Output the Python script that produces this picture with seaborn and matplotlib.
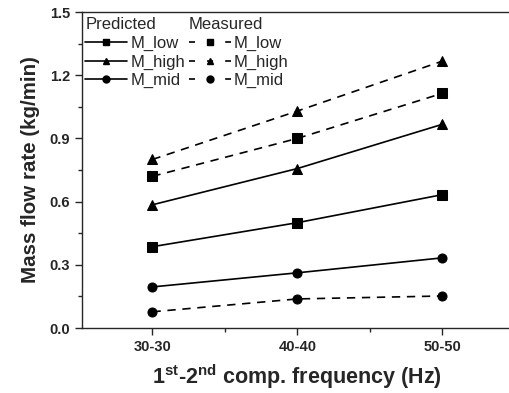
import pandas as pd
import seaborn as sns
import matplotlib.pyplot as plt
from matplotlib.lines import Line2D
from matplotlib.ticker import AutoMinorLocator, MultipleLocator

# ===== DATA =====
freqs = ["30-30", "40-40", "50-50"]
series_names = ["M_low", "M_high", "M_mid"]
predicted = {
    "M_low": [0.386, 0.50, 0.633],
    "M_high": [0.585, 0.757, 0.967],
    "M_mid": [0.195, 0.262, 0.333],
}
measured = {
    "M_low": [0.72, 0.90, 1.114],
    "M_high": [0.80, 1.03, 1.267],
    "M_mid": [0.077, 0.138, 0.152],
}
markers = {"M_low": "s", "M_high": "^", "M_mid": "o"}

# long-form table
rows = []
for name in series_names:
    for i, f in enumerate(freqs):
        rows.append({"pos": i, "freq": f, "series": name, "kind": "Predicted", "value": predicted[name][i]})
        rows.append({"pos": i, "freq": f, "series": name, "kind": "Measured", "value": measured[name][i]})
df = pd.DataFrame(rows)

sns.set_style("ticks")
plt.rcParams["font.family"] = ["Liberation Sans", "DejaVu Sans"]
plt.rcParams["mathtext.fontset"] = "custom"
plt.rcParams["mathtext.rm"] = "Liberation Sans:bold"
plt.rcParams["mathtext.bf"] = "Liberation Sans:bold"

fig = plt.figure(figsize=(5.1, 3.93), dpi=100)
ax = fig.add_axes([82 / 510, 65 / 393, 430 / 510, 316 / 393])

dash = (0, (5, 4))
for name in series_names:
    sub = df[(df["series"] == name) & (df["kind"] == "Predicted")]
    sns.lineplot(data=sub, x="pos", y="value", ax=ax, color="black", lw=1.2,
                 marker=markers[name], markersize=6.5, markeredgecolor="black", legend=False)
for name in series_names:
    sub = df[(df["series"] == name) & (df["kind"] == "Measured")]
    sns.lineplot(data=sub, x="pos", y="value", ax=ax, color="black", lw=1.2, linestyle=dash,
                 marker=markers[name], markersize=6.5, markeredgecolor="black", legend=False)

ax.set_xlim(-0.486, 2.48)
ax.set_ylim(0, 1.5)
ax.set_xticks(range(len(freqs)))
ax.set_xticklabels(freqs)
ax.yaxis.set_major_locator(MultipleLocator(0.3))
ax.yaxis.set_minor_locator(AutoMinorLocator(2))
ax.xaxis.set_minor_locator(AutoMinorLocator(2))
ax.yaxis.set_major_formatter(plt.FormatStrFormatter("%.1f"))
ax.tick_params(which="both", direction="out", width=1, labelsize=10.5)
ax.tick_params(which="major", length=5)
ax.tick_params(which="minor", length=3)
for lab in ax.get_xticklabels() + ax.get_yticklabels():
    lab.set_fontweight("bold")
ax.spines["right"].set_visible(False)
for s in ["left", "bottom", "top"]:
    ax.spines[s].set_linewidth(1.0)

ax.set_xlabel(r"1$^{\mathrm{st}}$-2$^{\mathrm{nd}}$ comp. frequency (Hz)", fontsize=15.5,
              fontweight="bold", labelpad=6)
ax.set_ylabel("Mass flow rate (kg/min)", fontsize=14.8, fontweight="bold", labelpad=7)

# legend handles (smaller markers than in the plot, as in the reference)
# dash pattern is scaled by linewidth, so 3.6/7.25 * 1.2 gives "- marker -"
h_pred = [Line2D([], [], color="black", lw=1.2, marker=markers[n], markersize=5) for n in series_names]
h_meas = [Line2D([], [], color="black", lw=1.2, linestyle=(0, (3.6, 7.25)), marker=markers[n], markersize=5)
          for n in series_names]
leg_kw = dict(frameon=False, fontsize=12, handlelength=2.52, handletextpad=0.2,
              labelspacing=0.22, borderaxespad=0.0, borderpad=0.2, alignment="left",
              title_fontsize=12)
leg1 = ax.legend(h_pred, series_names, title="Predicted", loc="upper left",
                 bbox_to_anchor=(0.0, 0.995), **leg_kw)
ax.add_artist(leg1)
ax.legend(h_meas, series_names, title="Measured", loc="upper left",
          bbox_to_anchor=(0.24, 0.995), **leg_kw)

fig.savefig("out.png", dpi=100)
